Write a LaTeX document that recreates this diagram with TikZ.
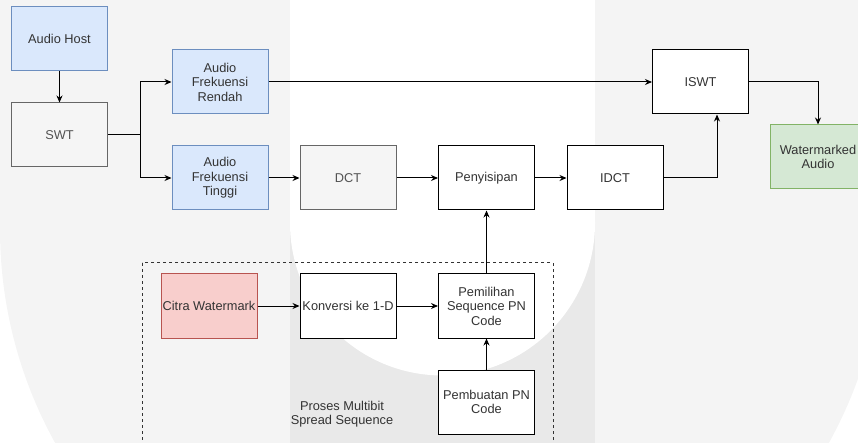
\documentclass[tikz,border=0pt]{standalone}
\usepackage{fontspec}
\setmainfont{Liberation Sans}
\usepackage{tikz}
\usetikzlibrary{arrows.meta, calc, positioning}
\definecolor{birumuda}{HTML}{DAE8FC}
\definecolor{birugaris}{HTML}{6C8EBF}
\definecolor{hijaumuda}{HTML}{D5E8D4}
\definecolor{hijaugaris}{HTML}{82B366}
\definecolor{merahmuda}{HTML}{F8CECC}
\definecolor{merahgaris}{HTML}{B85450}
\definecolor{abumuda}{HTML}{F5F5F5}
\definecolor{abugaris}{HTML}{666666}
\definecolor{teksabu}{HTML}{333333}
\definecolor{latarterang}{HTML}{F4F4F4}
\definecolor{latargelap}{HTML}{E9E9E9}

\begin{document}
\begin{tikzpicture}[x=1pt, y=-1pt,
    blok/.style={draw=black, line width=1pt, fill=white, minimum width=96pt, minimum height=64pt,
      inner sep=1pt, align=center, text=teksabu, font=\fontsize{12.8}{14.5}\selectfont},
    biru/.style={blok, draw=birugaris, fill=birumuda},
    hijau/.style={blok, draw=hijaugaris, fill=hijaumuda},
    merah/.style={blok, draw=merahgaris, fill=merahmuda},
    abu/.style={blok, draw=abugaris, fill=abumuda, text=abugaris!80!black},
    panah/.style={-{Stealth[length=7pt,width=6pt]}, line width=1pt},
    garis/.style={line width=1pt}]
    \useasboundingbox (0,0) rectangle (858,443);
    % latar (watermark)
    \fill[latarterang] (0,0) rectangle (858,229);
    \fill[latarterang] (442,229) circle (442pt);
    \fill[latargelap] (290,0) rectangle (595,443);
    \fill[white] (290,0) rectangle (595,223);
    \fill[white] (442.5,223) circle (152.5pt);

    % blok atas
    \node[biru] (host) at (59.5,39) {Audio Host};
    \node[abu] (swt) at (59.5,135) {SWT};
    \node[biru] (rendah) at (220,82) {Audio\\Frekuensi\\Rendah};
    \node[biru] (tinggi) at (220,178) {Audio\\Frekuensi\\Tinggi};
    \node[abu] (dct) at (348,178) {DCT};
    \node[blok] (sisip) at (486.5,178) {Penyisipan};
    \node[blok] (idct) at (615,178) {IDCT};
    \node[blok] (iswt) at (700.5,82) {ISWT};
    \node[hijau] (wm) at (818,157) {Watermarked\\Audio};

    % proses multibit
    \draw[teksabu, line width=1pt, dash pattern=on 3pt off 3pt] (142,263) rectangle (553,452);
    \node[merah] (citra) at (209,306) {Citra Watermark};
    \node[blok] (konv) at (348,306) {Konversi ke 1-D};
    \node[blok] (pilih) at (486.5,306) {Pemilihan\\Sequence PN\\Code};
    \node[blok] (buat) at (486.5,402) {Pembuatan PN\\Code};
    \node[align=center, text=teksabu, font=\fontsize{12.8}{14.5}\selectfont] (judul) at (342,414) {Proses Multibit\\Spread Sequence};

    % panah
    \coordinate (cabang) at (140,135);
    \draw[panah] (host) -- (swt);
    \draw[garis] (swt) -- (cabang);
    \draw[panah] (cabang) |- (rendah);
    \draw[panah] (cabang) |- (tinggi);
    \draw[panah] (rendah) -- (iswt);
    \draw[panah] (tinggi) -- (dct);
    \draw[panah] (dct) -- (sisip);
    \draw[panah] (sisip) -- (idct);
    \draw[panah] (idct) -| ($(iswt.south)+(16.5,0)$);
    \draw[panah] (iswt) -| (wm);
    \draw[panah] (citra) -- (konv);
    \draw[panah] (konv) -- (pilih);
    \draw[panah] (pilih) -- (sisip);
    \draw[panah] (buat) -- (pilih);
\end{tikzpicture}
\end{document}
